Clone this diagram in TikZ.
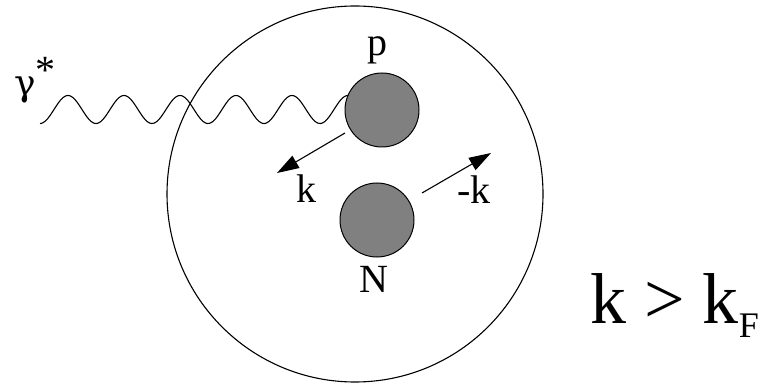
\documentclass[tikz,border=0pt]{standalone}
\usepackage{fontspec}
\setmainfont{Liberation Serif}
\newfontfamily\greekfont{DejaVu Serif}
\usetikzlibrary{arrows.meta}
\begin{document}
\begin{tikzpicture}[x=1pt,y=-1pt,
  thinline/.style={line width=1.1pt},
  ball/.style={circle, draw, fill={rgb,255:red,128;green,128;blue,128}, line width=1pt, minimum size=74pt, inner sep=0pt},
  lbl/.style={inner sep=0pt, font=\fontsize{40}{44}\selectfont},
  arr/.style={line width=1.1pt, -{Triangle[length=22pt,width=14pt]}}]
\useasboundingbox (0,0) rectangle (770,387);
\node[circle, draw, line width=1.1pt, minimum size=376pt, inner sep=0pt] (nucleus) at (355,194) {};
% photon
\draw[thinline, domain=40:352, samples=200, smooth, variable=\x]
  plot (\x, {109.5 + 14*cos(6.428571*(\x-40))});
\node[ball] (p) at (382,110) {};
\node[ball] (N) at (377,220) {};
\coordinate (ks) at (345,133);
\coordinate (ke) at (277,173);
\coordinate (mks) at (422,193);
\coordinate (mke) at (491,153);
\draw[arr] (ks) -- (ke);
\draw[arr] (mks) -- (mke);
\node[lbl] (plab) at (377,50) {p};
\node[lbl] (klab) at (306,189) {k};
\node[lbl] (mklab) at (474,190) {-k};
\node[lbl] (Nlab) at (374,279) {N};
\node[lbl, anchor=base west] (glab) at (14,96) {{\greekfont\fontsize{36}{40}\selectfont γ}\raisebox{0.3em}{*}};
\node[inner sep=0pt, font=\fontsize{72}{76}\selectfont, anchor=base west] (rel) at (590,323) {k > k\raisebox{-0.2em}{\fontsize{36}{36}\selectfont F}};
\end{tikzpicture}
\end{document}
